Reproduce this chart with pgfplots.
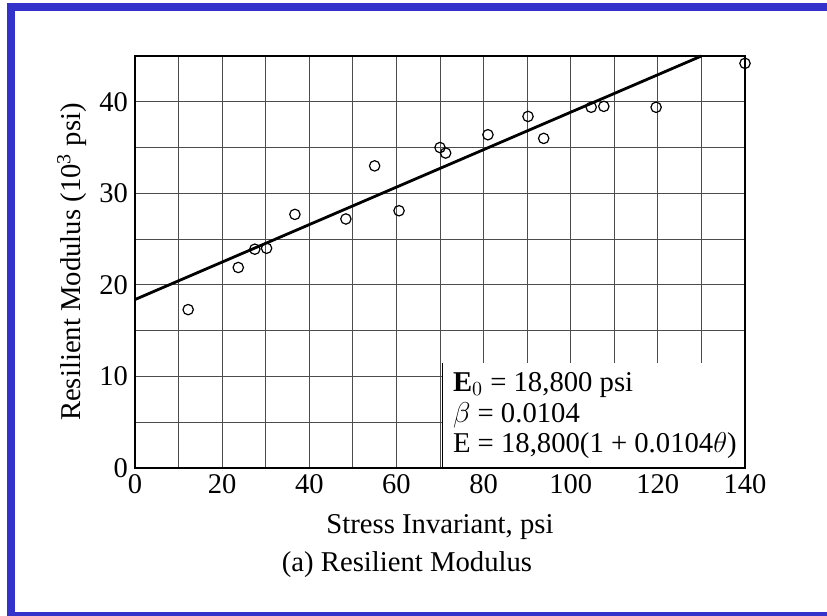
\documentclass[border=0pt]{standalone}
\usepackage{fontspec}
\setmainfont{Liberation Serif}
\usepackage{pgfplots}
\pgfplotsset{compat=1.18}
\definecolor{framebl}{RGB}{51,51,204}

\begin{document}
\begin{tikzpicture}
\useasboundingbox (-67.5bp,-74bp) rectangle (346bp,234bp);
\fill[white] (-67.5bp,-74bp) rectangle (346bp,234bp);
% blue frame
\fill[framebl] (-64bp,-74bp) rectangle (-60bp,232.5bp);
\fill[framebl] (-64bp,228.5bp) rectangle (346bp,232.5bp);
\fill[framebl] (-64bp,-74bp) rectangle (346bp,-72bp);

\begin{axis}[
    at={(0,0)}, anchor=south west,
    scale only axis,
    width=305bp, height=206bp,
    xmin=0, xmax=140, ymin=0, ymax=45,
    xtick={0,20,...,140},
    ytick={0,10,...,40},
    minor x tick num=1,
    minor y tick num=1,
    grid=both,
    major grid style={black!70, line width=0.5bp},
    minor grid style={black!70, line width=0.5bp},
    major tick length=0pt, minor tick length=0pt,
    axis line style={line width=1bp},
    clip=false,
    /pgf/number format/assume math mode=true,
    /pgf/number format/1000 sep={},
    tick label style={font=\fontsize{14.3}{16}\selectfont},
    xlabel={Stress Invariant, psi},
    ylabel={Resilient Modulus (10\textsuperscript{3} psi)},
    every axis x label/.style={at={(axis description cs:0.5,0)}, yshift=-29.5bp, anchor=center, font=\fontsize{14.4}{16}\selectfont},
    every axis y label/.style={at={(axis description cs:0,0.5)}, xshift=-31.5bp, rotate=90, anchor=center, font=\fontsize{14.4}{16}\selectfont},
  ]
% measured points
\addplot[only marks, mark=o, mark size=2.6bp, mark options={line width=0.6bp, black}] coordinates {
  (12.2,17.3) (23.7,21.9) (27.5,23.9) (30.2,24.0) (36.7,27.7) (48.4,27.2)
  (55.0,33.0) (60.6,28.1) (70.0,35.0) (71.3,34.4) (81.0,36.4) (90.2,38.4)
  (93.8,36.0) (104.7,39.4) (107.6,39.5) (119.6,39.4) (140.0,44.2)
};
% fitted line
\addplot[black, line width=1.4bp] coordinates {(0,18.4) (130,45)};
% equation box
\fill[white] (axis cs:70.6,0) rectangle (axis cs:140,11.5);
\draw[line width=0.6bp] (axis cs:70.6,11.5) -- (axis cs:70.6,0);
\draw[line width=1bp] (axis cs:70.6,0) -- (axis cs:140,0) -- (axis cs:140,11.5);
\node[anchor=west, font=\fontsize{14.4}{16}\selectfont, inner sep=0pt] at (axis cs:72.9,9.07) {\textbf{E}$_0$ = 18,800 psi};
\node[anchor=west, font=\fontsize{14.4}{16}\selectfont, inner sep=0pt] at (axis cs:72.9,5.79) {$\beta$ = 0.0104};
\node[anchor=west, font=\fontsize{14.4}{16}\selectfont, inner sep=0pt] at (axis cs:72.9,2.5) {E = 18,800(1 + 0.0104$\theta$)};
\end{axis}
\node[font=\fontsize{14.4}{16}\selectfont] at (136bp,-48.5bp) {(a) Resilient Modulus};
\end{tikzpicture}
\end{document}
